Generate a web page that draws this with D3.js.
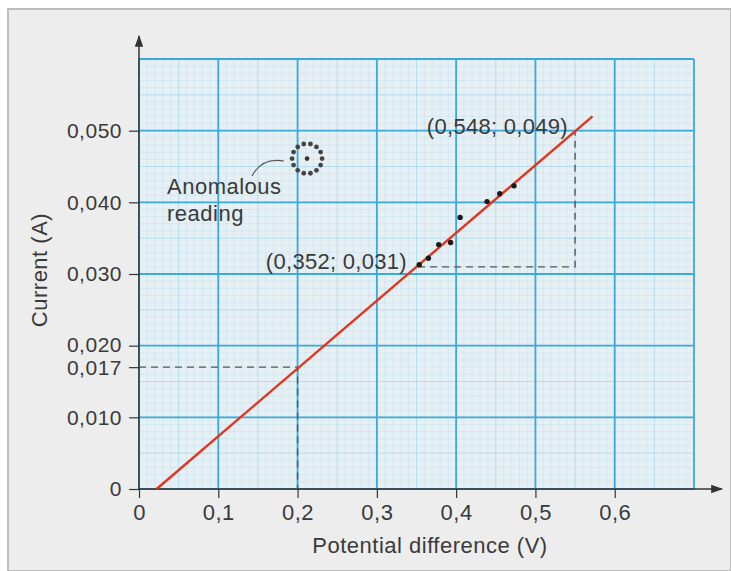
<!DOCTYPE html>
<html>
<head>
<meta charset="utf-8">
<script src="https://cdn.jsdelivr.net/npm/d3@7"></script>
<style>
  body { margin: 0; background: #fff; }
  text { font-family: "Liberation Sans", Arial, sans-serif; fill: #3a3a3a; letter-spacing: 0.5px; }
</style>
</head>
<body>
<div id="chart"></div>
<script>
// values
var xTicks = [0, 0.1, 0.2, 0.3, 0.4, 0.5, 0.6];
var yTicks = [0, 0.010, 0.017, 0.020, 0.030, 0.040, 0.050];
var readingsV = [0.3535, 0.365, 0.378, 0.393, 0.405, 0.439, 0.455, 0.473];
var readingsA = [0.0313, 0.0322, 0.0341, 0.0344, 0.0379, 0.0401, 0.0412, 0.0423];
var anomalous = [0.212, 0.0461];
var fitLine = [[0.0222, 0], [0.572, 0.0520]];
var pointA = [0.352, 0.031];
var pointB = [0.548, 0.049];
var guide = [0.2, 0.017];

var W = 731, H = 571;
var svg = d3.select("#chart").append("svg")
    .attr("width", W)
    .attr("height", H);

// panel frame
svg.append("rect")
    .attr("x", 8).attr("y", 9)
    .attr("width", W - 8).attr("height", H - 9)
    .attr("fill", "#ededed")
    .attr("stroke", "#bdbdbd")
    .attr("stroke-width", 2);

var x = d3.scaleLinear().domain([0, 0.7]).range([139, 694]);
var y = d3.scaleLinear().domain([0, 0.06]).range([489, 59]);

var loc = d3.formatLocale({decimal: ",", thousands: ".", grouping: [3], currency: ["", ""]});
var fx = loc.format(".1f"), fy = loc.format(".3f");

// graph paper
var paper = svg.append("g");
paper.append("rect")
    .attr("x", x(0)).attr("y", y(0.06))
    .attr("width", x(0.7) - x(0)).attr("height", y(0) - y(0.06))
    .attr("fill", "#e6eff3");

var minorX = d3.range(0, 71).map(function (i) { return i / 100; });
var minorY = d3.range(0, 61).map(function (i) { return i / 1000; });

paper.selectAll(".mx").data(minorX).enter().append("line")
    .attr("x1", function (d) { return x(d); })
    .attr("x2", function (d) { return x(d); })
    .attr("y1", y(0)).attr("y2", y(0.06))
    .attr("stroke", "#9fd6ee")
    .attr("stroke-width", function (d, i) { return i % 5 == 0 ? 1 : 0.6; })
    .attr("stroke-opacity", function (d, i) { return i % 5 == 0 ? 0.7 : 0.4; });
paper.selectAll(".my").data(minorY).enter().append("line")
    .attr("y1", function (d) { return y(d); })
    .attr("y2", function (d) { return y(d); })
    .attr("x1", x(0)).attr("x2", x(0.7))
    .attr("stroke", "#9fd6ee")
    .attr("stroke-width", function (d, i) { return i % 5 == 0 ? 1 : 0.6; })
    .attr("stroke-opacity", function (d, i) { return i % 5 == 0 ? 0.7 : 0.4; });

// major lines
paper.selectAll(".Mx").data(d3.range(0, 8).map(function (i) { return i / 10; })).enter().append("line")
    .attr("x1", function (d) { return x(d); })
    .attr("x2", function (d) { return x(d); })
    .attr("y1", y(0)).attr("y2", y(0.06))
    .attr("stroke", "#3aa9dd").attr("stroke-width", 1.8);
paper.selectAll(".My").data(d3.range(0, 7).map(function (i) { return i / 100; })).enter().append("line")
    .attr("y1", function (d) { return y(d); })
    .attr("y2", function (d) { return y(d); })
    .attr("x1", x(0)).attr("x2", x(0.7))
    .attr("stroke", "#3aa9dd").attr("stroke-width", 1.8);

// dashed construction lines
var dash = svg.append("g")
    .attr("fill", "none")
    .attr("stroke", "#555")
    .attr("stroke-width", 1.4)
    .attr("stroke-dasharray", "7,5");
dash.append("path")
    .attr("d", "M" + x(0) + "," + y(guide[1]) + "H" + x(guide[0]) + "V" + y(0));
dash.append("path")
    .attr("d", "M" + x(pointA[0]) + "," + y(pointA[1]) + "H" + x(0.55) + "V" + y(0.0500));

// axes
var axisCol = "#333";
var xAxis = svg.append("g")
    .attr("transform", "translate(0," + y(0) + ")")
    .call(d3.axisBottom(x).tickValues(xTicks).tickSize(9).tickPadding(6)
        .tickFormat(function (d) { return d == 0 ? "0" : fx(d); }));
xAxis.select(".domain").remove();
xAxis.selectAll("line").attr("stroke", axisCol).attr("stroke-width", 1.2);
xAxis.selectAll("text").attr("font-size", 22).attr("fill", "#3a3a3a")
    .attr("font-family", "Liberation Sans, Arial, sans-serif");

var yAxis = svg.append("g")
    .attr("transform", "translate(" + x(0) + ",0)")
    .call(d3.axisLeft(y).tickValues(yTicks).tickSize(10).tickPadding(7)
        .tickFormat(function (d) { return d == 0 ? "0" : fy(d); }));
yAxis.select(".domain").remove();
yAxis.selectAll("line").attr("stroke", axisCol).attr("stroke-width", 1.2);
yAxis.selectAll("text").attr("font-size", 21).attr("fill", "#3a3a3a")
    .attr("font-family", "Liberation Sans, Arial, sans-serif")
    .attr("dy", function (d) {
        // the two close labels are nudged apart a little
        if (d == 0.020) return "0.28em";
        if (d == 0.017) return "0.36em";
        return "0.32em";
    });

// arrows
var defs = svg.append("defs");
defs.append("marker")
    .attr("id", "arr")
    .attr("viewBox", "0 0 10 10")
    .attr("refX", 9).attr("refY", 5)
    .attr("markerWidth", 12).attr("markerHeight", 12)
    .attr("markerUnits", "userSpaceOnUse")
    .attr("orient", "auto")
  .append("path")
    .attr("d", "M0,1.5L10,5L0,8.5z")
    .attr("fill", axisCol);

svg.append("line")
    .attr("x1", x(0)).attr("y1", y(0))
    .attr("x2", 722).attr("y2", y(0))
    .attr("stroke", axisCol).attr("stroke-width", 1.5)
    .attr("marker-end", "url(#arr)");
svg.append("line")
    .attr("x1", x(0)).attr("y1", y(0))
    .attr("x2", x(0)).attr("y2", 36)
    .attr("stroke", axisCol).attr("stroke-width", 1.5)
    .attr("marker-end", "url(#arr)");

// best fit line
svg.append("line")
    .attr("x1", x(fitLine[0][0])).attr("y1", y(fitLine[0][1]))
    .attr("x2", x(fitLine[1][0])).attr("y2", y(fitLine[1][1]))
    .attr("stroke", "#e2341f")
    .attr("stroke-width", 2.4);

// readings
svg.selectAll(".pt").data(readingsV).enter().append("circle")
    .attr("cx", function (d) { return x(d); })
    .attr("cy", function (d, i) { return y(readingsA[i]); })
    .attr("r", 2.7)
    .attr("fill", "#1a1a1a");

// anomalous reading ring
var ax = x(anomalous[0]), ay = y(anomalous[1]);
svg.append("circle").attr("cx", ax).attr("cy", ay).attr("r", 2.3).attr("fill", "#333");
svg.selectAll(".ring").data(d3.range(14)).enter().append("circle")
    .attr("cx", function (d) { return ax + 15 * Math.cos(d / 14 * 2 * Math.PI); })
    .attr("cy", function (d) { return ay + 15 * Math.sin(d / 14 * 2 * Math.PI); })
    .attr("r", 2.4)
    .attr("fill", "#444");

svg.append("path")
    .attr("d", "M252,176 Q262,157 284,161")
    .attr("fill", "none")
    .attr("stroke", "#555")
    .attr("stroke-width", 1.2);

svg.append("text").attr("x", 167).attr("y", 194).attr("font-size", 22).text("Anomalous");
svg.append("text").attr("x", 167).attr("y", 221).attr("font-size", 22).text("reading");

// coordinate labels
svg.append("text")
    .attr("x", 407).attr("y", 269)
    .attr("text-anchor", "end").attr("font-size", 22)
    .style("letter-spacing", "0.3px")
    .text("(" + loc.format(".3f")(pointA[0]) + "; " + fy(pointA[1]) + ")");
svg.append("text")
    .attr("x", 568).attr("y", 134)
    .attr("text-anchor", "end").attr("font-size", 22)
    .style("letter-spacing", "0.3px")
    .text("(" + loc.format(".3f")(pointB[0]) + "; " + fy(pointB[1]) + ")");

// axis titles
svg.append("text")
    .attr("x", 430).attr("y", 553)
    .attr("text-anchor", "middle").attr("font-size", 22)
    .text("Potential difference (V)");
svg.append("text")
    .attr("transform", "translate(47,270) rotate(-90)")
    .attr("text-anchor", "middle").attr("font-size", 22)
    .text("Current (A)");
</script>
</body>
</html>
